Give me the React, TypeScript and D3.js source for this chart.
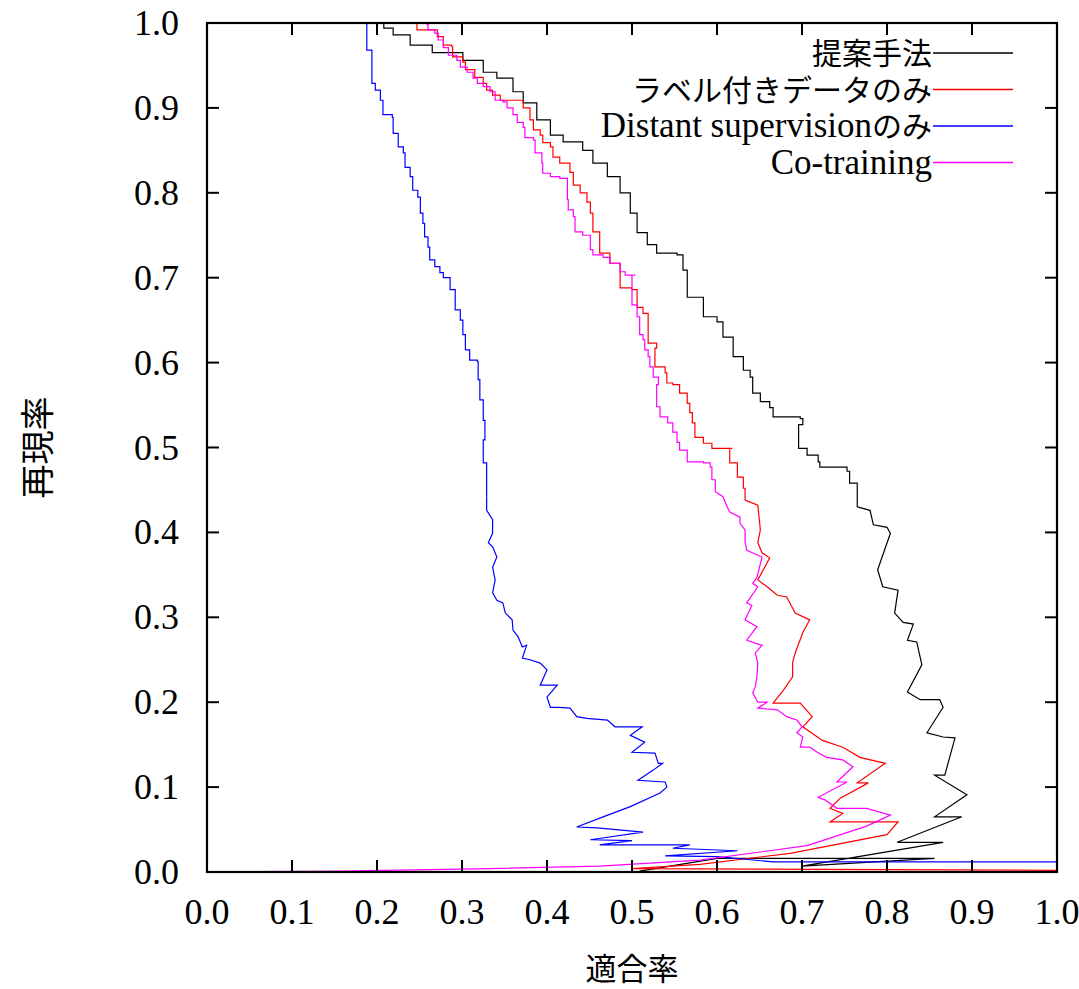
import React from "react";
import * as d3 from "d3";

// precision (x) / recall (y) pairs, from the top (recall 1.0) downward
const proposedP = [0.2, 0.208, 0.219, 0.239, 0.265, 0.286, 0.301, 0.325, 0.341, 0.36, 0.372, 0.388, 0.404, 0.419, 0.442, 0.454, 0.471, 0.486, 0.498, 0.506, 0.518, 0.529, 0.553, 0.56, 0.565, 0.565, 0.584, 0.6, 0.607, 0.619, 0.619, 0.631, 0.639, 0.642, 0.651, 0.662, 0.666, 0.698, 0.701, 0.696, 0.706, 0.719, 0.721, 0.753, 0.756, 0.765, 0.78, 0.784, 0.8, 0.804, 0.789, 0.795, 0.813, 0.809, 0.819, 0.831, 0.824, 0.835, 0.841, 0.824, 0.839, 0.862, 0.866, 0.847, 0.866, 0.88, 0.868, 0.856, 0.894, 0.856, 0.888, 0.812, 0.866, 0.7, 0.856, 0.6, 0.509];
const proposedR = [1.0, 0.994, 0.986, 0.974, 0.965, 0.965, 0.956, 0.942, 0.935, 0.919, 0.906, 0.886, 0.868, 0.86, 0.85, 0.835, 0.819, 0.8, 0.776, 0.753, 0.739, 0.729, 0.727, 0.709, 0.689, 0.677, 0.654, 0.648, 0.63, 0.621, 0.607, 0.591, 0.583, 0.564, 0.554, 0.547, 0.536, 0.534, 0.527, 0.499, 0.491, 0.483, 0.477, 0.472, 0.458, 0.43, 0.426, 0.409, 0.406, 0.399, 0.356, 0.336, 0.332, 0.305, 0.294, 0.292, 0.273, 0.271, 0.244, 0.212, 0.203, 0.203, 0.194, 0.164, 0.159, 0.158, 0.114, 0.114, 0.091, 0.065, 0.065, 0.035, 0.035, 0.007, 0.016, 0.016, 0.001];

const labeledP = [0.233, 0.247, 0.259, 0.271, 0.278, 0.288, 0.289, 0.301, 0.304, 0.315, 0.325, 0.329, 0.336, 0.345, 0.365, 0.372, 0.38, 0.384, 0.392, 0.395, 0.404, 0.407, 0.415, 0.427, 0.431, 0.439, 0.447, 0.451, 0.454, 0.462, 0.462, 0.474, 0.486, 0.486, 0.5, 0.506, 0.513, 0.519, 0.519, 0.529, 0.527, 0.539, 0.541, 0.548, 0.556, 0.565, 0.568, 0.571, 0.574, 0.584, 0.594, 0.618, 0.615, 0.624, 0.631, 0.633, 0.648, 0.651, 0.648, 0.653, 0.662, 0.648, 0.659, 0.671, 0.682, 0.692, 0.709, 0.701, 0.692, 0.689, 0.689, 0.678, 0.666, 0.698, 0.712, 0.701, 0.724, 0.748, 0.768, 0.798, 0.765, 0.778, 0.745, 0.733, 0.748, 0.733, 0.813, 0.8, 0.686, 0.58, 0.5, 1.0];
const labeledR = [1.0, 0.992, 0.992, 0.984, 0.974, 0.972, 0.96, 0.954, 0.945, 0.936, 0.929, 0.921, 0.915, 0.909, 0.909, 0.9, 0.886, 0.874, 0.868, 0.859, 0.854, 0.842, 0.835, 0.824, 0.809, 0.8, 0.789, 0.776, 0.754, 0.744, 0.729, 0.717, 0.706, 0.688, 0.686, 0.665, 0.658, 0.642, 0.623, 0.617, 0.595, 0.588, 0.576, 0.574, 0.564, 0.552, 0.541, 0.529, 0.512, 0.505, 0.499, 0.499, 0.482, 0.465, 0.452, 0.438, 0.432, 0.403, 0.388, 0.376, 0.37, 0.344, 0.336, 0.326, 0.324, 0.305, 0.297, 0.282, 0.258, 0.247, 0.23, 0.214, 0.199, 0.199, 0.183, 0.171, 0.155, 0.147, 0.135, 0.128, 0.105, 0.105, 0.087, 0.075, 0.069, 0.059, 0.059, 0.044, 0.022, 0.009, 0.004, 0.002];

const distantP = [0.191, 0.188, 0.194, 0.194, 0.198, 0.204, 0.207, 0.218, 0.219, 0.225, 0.231, 0.233, 0.239, 0.242, 0.248, 0.251, 0.254, 0.256, 0.26, 0.262, 0.268, 0.274, 0.278, 0.286, 0.292, 0.298, 0.301, 0.304, 0.309, 0.318, 0.319, 0.321, 0.325, 0.327, 0.325, 0.329, 0.329, 0.336, 0.336, 0.331, 0.336, 0.341, 0.336, 0.339, 0.336, 0.341, 0.348, 0.351, 0.359, 0.36, 0.366, 0.371, 0.376, 0.371, 0.38, 0.392, 0.4, 0.392, 0.412, 0.4, 0.404, 0.415, 0.427, 0.435, 0.447, 0.471, 0.48, 0.512, 0.498, 0.515, 0.5, 0.527, 0.531, 0.536, 0.525, 0.507, 0.539, 0.541, 0.533, 0.498, 0.466, 0.435, 0.459, 0.513, 0.451, 0.5, 0.462, 0.568, 0.548, 0.624, 0.539, 0.6, 0.666, 1.0];
const distantR = [1.0, 0.968, 0.948, 0.929, 0.921, 0.909, 0.892, 0.889, 0.87, 0.854, 0.847, 0.83, 0.819, 0.803, 0.795, 0.776, 0.764, 0.748, 0.736, 0.721, 0.713, 0.706, 0.7, 0.686, 0.662, 0.65, 0.633, 0.615, 0.603, 0.601, 0.58, 0.556, 0.532, 0.509, 0.482, 0.442, 0.426, 0.415, 0.399, 0.388, 0.383, 0.371, 0.359, 0.344, 0.329, 0.32, 0.317, 0.305, 0.297, 0.285, 0.277, 0.265, 0.267, 0.252, 0.25, 0.246, 0.238, 0.22, 0.22, 0.206, 0.194, 0.194, 0.193, 0.183, 0.181, 0.179, 0.171, 0.171, 0.161, 0.153, 0.141, 0.14, 0.128, 0.128, 0.12, 0.108, 0.106, 0.1, 0.093, 0.077, 0.065, 0.053, 0.052, 0.047, 0.038, 0.037, 0.032, 0.032, 0.028, 0.025, 0.019, 0.018, 0.012, 0.012];

const cotrainP = [0.224, 0.259, 0.26, 0.268, 0.272, 0.278, 0.284, 0.294, 0.298, 0.306, 0.313, 0.318, 0.325, 0.333, 0.339, 0.348, 0.353, 0.36, 0.365, 0.372, 0.374, 0.384, 0.386, 0.394, 0.395, 0.404, 0.415, 0.424, 0.424, 0.425, 0.431, 0.433, 0.442, 0.451, 0.454, 0.466, 0.474, 0.484, 0.486, 0.492, 0.504, 0.5, 0.5, 0.506, 0.506, 0.509, 0.513, 0.515, 0.519, 0.521, 0.525, 0.531, 0.529, 0.529, 0.533, 0.542, 0.548, 0.553, 0.556, 0.565, 0.565, 0.584, 0.592, 0.594, 0.598, 0.607, 0.612, 0.615, 0.627, 0.627, 0.633, 0.633, 0.635, 0.653, 0.647, 0.642, 0.648, 0.635, 0.641, 0.633, 0.647, 0.635, 0.653, 0.645, 0.648, 0.647, 0.645, 0.642, 0.648, 0.659, 0.648, 0.671, 0.682, 0.694, 0.7, 0.694, 0.701, 0.698, 0.709, 0.718, 0.729, 0.748, 0.76, 0.741, 0.753, 0.719, 0.727, 0.741, 0.776, 0.804, 0.776, 0.706, 0.58, 0.462, 0.333, 0.156, 0.001];
const cotrainR = [1.0, 0.998, 0.992, 0.988, 0.98, 0.971, 0.962, 0.956, 0.948, 0.942, 0.935, 0.929, 0.925, 0.919, 0.909, 0.907, 0.9, 0.892, 0.883, 0.877, 0.865, 0.862, 0.847, 0.835, 0.823, 0.819, 0.817, 0.812, 0.792, 0.78, 0.772, 0.754, 0.75, 0.733, 0.727, 0.724, 0.717, 0.717, 0.707, 0.703, 0.703, 0.686, 0.668, 0.665, 0.654, 0.633, 0.627, 0.615, 0.607, 0.595, 0.583, 0.574, 0.559, 0.548, 0.536, 0.529, 0.518, 0.506, 0.497, 0.491, 0.483, 0.482, 0.477, 0.462, 0.448, 0.442, 0.43, 0.424, 0.418, 0.411, 0.403, 0.389, 0.379, 0.371, 0.347, 0.34, 0.336, 0.317, 0.314, 0.297, 0.289, 0.273, 0.267, 0.258, 0.246, 0.23, 0.218, 0.211, 0.2, 0.2, 0.193, 0.191, 0.183, 0.179, 0.171, 0.164, 0.159, 0.147, 0.147, 0.141, 0.135, 0.132, 0.124, 0.106, 0.106, 0.088, 0.085, 0.075, 0.075, 0.067, 0.054, 0.031, 0.014, 0.007, 0.004, 0.001, 0.0];

const seriesLatin = ["", "", "Distant supervision", "Co-training"];
const seriesJa = ["提案手法", "ラベル付きデータのみ", "のみ", ""];
const seriesColors = ["#000000", "#ff0000", "#0000ff", "#ff00ff"];
const seriesP = [proposedP, labeledP, distantP, cotrainP];
const seriesR = [proposedR, labeledR, distantR, cotrainR];

const tickValues = [0, 0.1, 0.2, 0.3, 0.4, 0.5, 0.6, 0.7, 0.8, 0.9, 1.0];

const W = 1079;
const H = 989;
const margin = { top: 23, right: 22, bottom: 117, left: 207 };
// above this recall the curves move in small stair steps
const stepAbove = 0.45;

export default function App() {
  const x = d3.scaleLinear().domain([0, 1]).range([margin.left, W - margin.right]);
  const y = d3.scaleLinear().domain([0, 1]).range([H - margin.bottom, margin.top]);
  const fmt = d3.format(".1f");
  const stepLine = d3
    .line<[number, number]>()
    .x((d) => x(d[0]))
    .y((d) => y(d[1]))
    .curve(d3.curveStepAfter);
  const straight = d3
    .line<[number, number]>()
    .x((d) => x(d[0]))
    .y((d) => y(d[1]));

  const x0 = x(0), x1 = x(1), y0 = y(0), y1 = y(1);
  const tickLen = 12;
  const numFont = "'Liberation Serif', 'Times New Roman', serif";
  const jpFont = "'Noto Sans CJK JP', sans-serif";

  return (
    <div style={{ position: "absolute", left: 0, top: 0 }}>
      <svg width={W} height={H} style={{ display: "block", background: "#fff" }}>
        {/* curves */}
        <g fill="none" strokeWidth={1.2}>
          {seriesP.map((ps, i) => {
            const pts = ps.map((p, j) => [p, seriesR[i][j]] as [number, number]);
            let k = pts.findIndex((d) => d[1] < stepAbove);
            if (k < 1) k = pts.length - 1;
            const upper = pts.slice(0, k + 1);
            const lower = pts.slice(k);
            return (
              <g key={i} stroke={seriesColors[i]}>
                <path d={stepLine(upper) || ""} />
                <path d={straight(lower) || ""} />
              </g>
            );
          })}
        </g>

        {/* ticks on all four sides, pointing inward */}
        <g stroke="#000" strokeWidth={2}>
          {tickValues.map((t) => (
            <g key={"t" + t}>
              <line x1={x(t)} x2={x(t)} y1={y0} y2={y0 - tickLen} />
              <line x1={x(t)} x2={x(t)} y1={y1} y2={y1 + tickLen} />
              <line x1={x0} x2={x0 + tickLen} y1={y(t)} y2={y(t)} />
              <line x1={x1} x2={x1 - tickLen} y1={y(t)} y2={y(t)} />
            </g>
          ))}
        </g>

        {/* frame */}
        <rect x={x0} y={y1} width={x1 - x0} height={y0 - y1} fill="none" stroke="#000" strokeWidth={2.2} />

        {/* tick labels */}
        <g fontFamily={numFont} fontSize={36} fill="#000">
          {tickValues.map((t) => (
            <text key={"x" + t} x={x(t)} y={y0 + 52} textAnchor="middle">
              {fmt(t)}
            </text>
          ))}
          {tickValues.map((t) => (
            <text key={"y" + t} x={x0 - 28} y={y(t) + 12} textAnchor="end">
              {fmt(t)}
            </text>
          ))}
        </g>

        {/* axis titles */}
        <text x={(x0 + x1) / 2} y={H - 9} textAnchor="middle" fontFamily={jpFont} fontSize={31}>
          適合率
        </text>
        <text
          transform={`translate(50, ${(y0 + y1) / 2}) rotate(-90)`}
          textAnchor="middle"
          fontFamily={jpFont}
          fontSize={34}
        >
          再現率
        </text>

        {/* legend */}
        <g>
          {seriesColors.map((c, i) => {
            const ly = 53 + i * 36.5;
            return (
              <g key={c}>
                <text x={932} y={ly + 11} textAnchor="end">
                  {seriesLatin[i] && (
                    <tspan fontFamily={numFont} fontSize={35}>
                      {seriesLatin[i]}
                    </tspan>
                  )}
                  {seriesJa[i] && (
                    <tspan fontFamily={jpFont} fontSize={30}>
                      {seriesJa[i]}
                    </tspan>
                  )}
                </text>
                <line x1={933} x2={1013} y1={ly} y2={ly} stroke={c} strokeWidth={1.4} />
              </g>
            );
          })}
        </g>
      </svg>
    </div>
  );
}
